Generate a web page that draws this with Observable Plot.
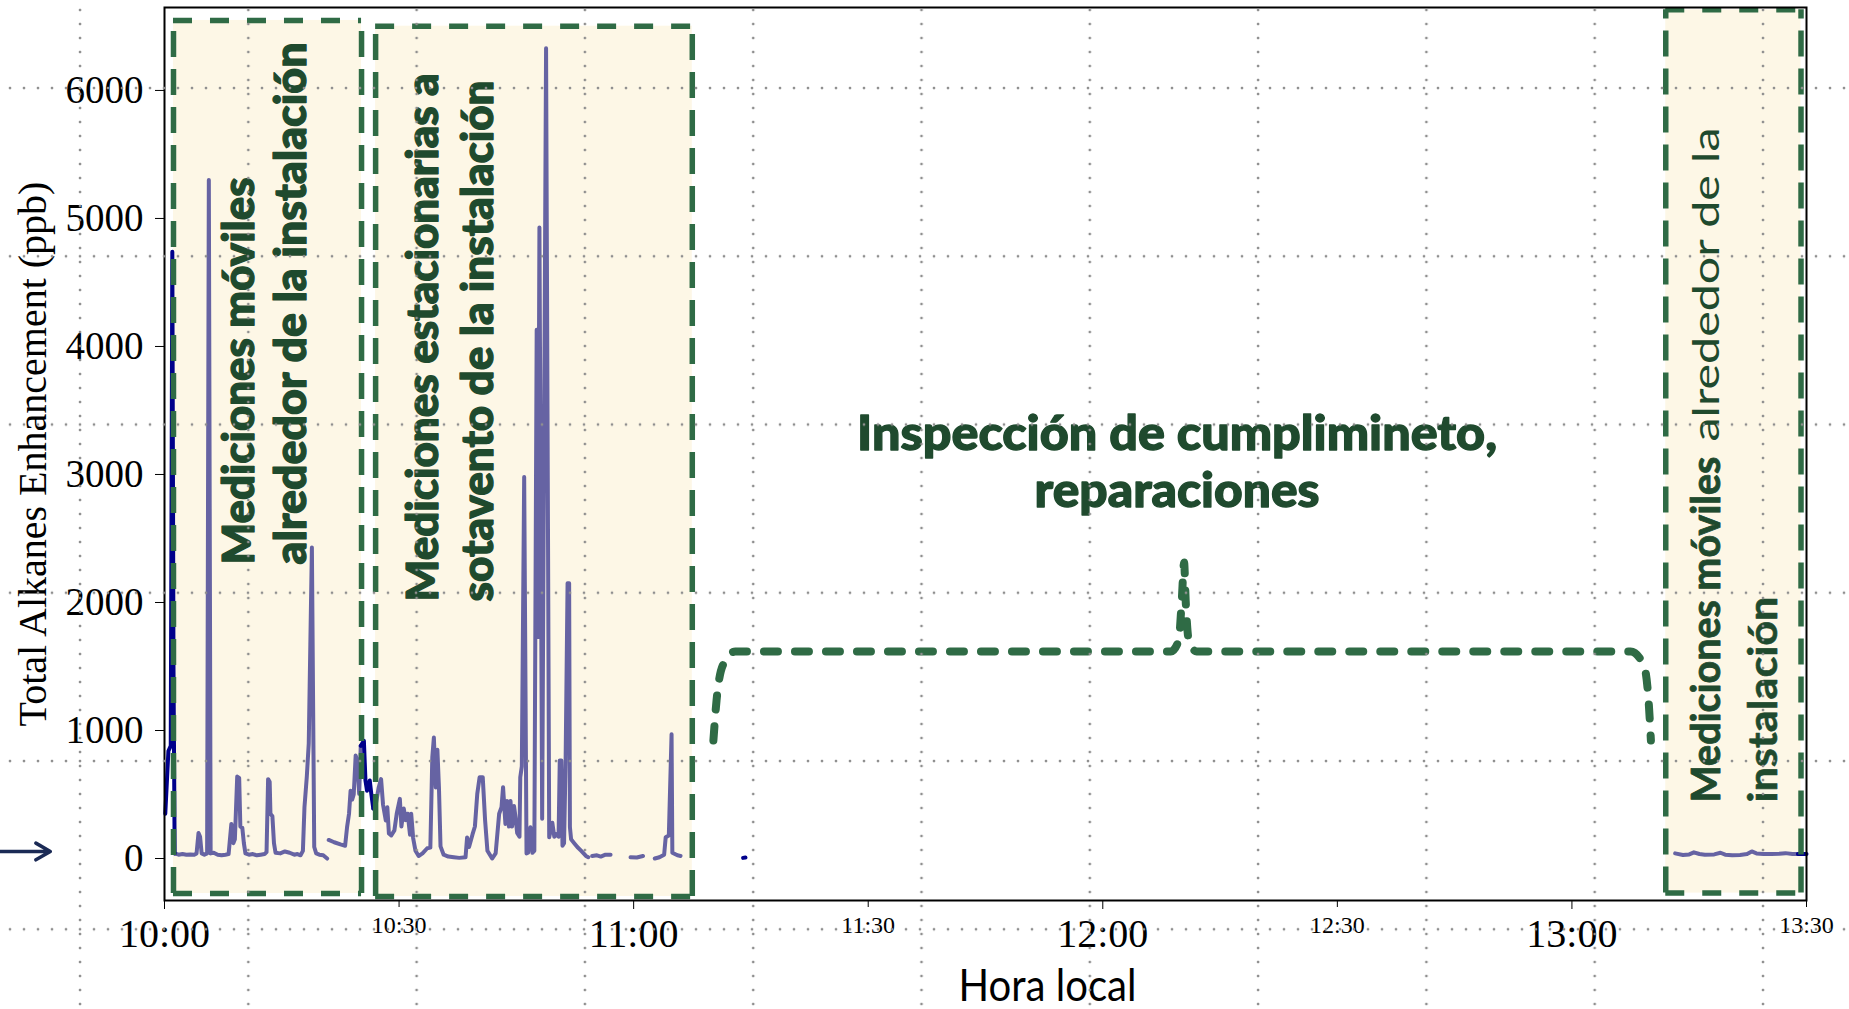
<!DOCTYPE html>
<html><head><meta charset="utf-8">
<script src="https://cdn.jsdelivr.net/npm/d3@7"></script>
<script src="https://cdn.jsdelivr.net/npm/@observablehq/plot@0.6"></script>
<style>
html,body{margin:0;padding:0;background:#fff;overflow:hidden;}
#wrap{position:relative;width:1849px;height:1009px;}
#grid{position:absolute;left:0;top:0;width:1849px;height:1009px;pointer-events:none;
background-image: radial-gradient(circle at 7px 7px, #8f8f8f 1.1px, rgba(143,143,143,0) 1.7px), radial-gradient(circle at 7px 7px, #8f8f8f 1.1px, rgba(143,143,143,0) 1.7px);
background-size: 14px 168.25px, 168.3px 14px;
background-position: 3px 81px, 73px 3px;}
</style></head>
<body><div id="wrap"><div id="chart"></div><div id="grid"></div></div>
<script>
// ---- tick labels ----
const hourLabels = ["10:00", "11:00", "12:00", "13:00"];
const halfLabels = ["10:30", "11:30", "12:30", "13:30"];
const yTicks = [0, 1000, 2000, 3000, 4000, 5000, 6000];

// ---- series: [minutes after 10:00, ppb] (null = gap) ----
const purpleReadings = [
  [1.3,40],[1.8,30],[2.3,35],[2.8,30],[3.3,32],[3.8,30],[4.1,40],[4.35,200],[4.55,170],[4.75,40],[5.1,30],[5.45,40],[5.67,5300],[5.9,40],
  [6.3,45],[6.8,30],[7.3,25],[7.8,30],[8.2,35],[8.55,270],[8.8,120],[9.0,150],[9.3,640],[9.55,630],[9.7,250],[9.95,240],[10.15,120],[10.35,40],
  [10.8,30],[11.3,35],[11.8,25],[12.3,30],[12.8,35],[13.05,50],[13.25,620],[13.45,600],[13.55,350],[13.8,330],[14.0,120],[14.2,45],[14.8,40],
  [15.4,55],[16.0,45],[16.6,30],[17.0,35],[17.4,25],[17.7,60],[17.9,400],[18.2,640],[18.45,900],[18.85,2430],[19.15,90],[19.4,40],[19.8,30],
  [20.3,25],[20.8,0],[20.9,null],
  [21.0,145],[21.7,127],[22.5,110],[23.1,100],[23.35,245],[23.6,350],[23.8,530],[24.0,460],[24.2,500],[24.45,805],[24.65,760],[24.9,505],[25.1,880],[25.3,null],
  [26.7,390],[27.0,415],[27.4,557],[27.7,620],[27.95,420],[28.3,297],[28.5,400],[28.7,195],[29.0,180],[29.4,220],[29.7,350],[30.1,466],[30.3,250],
  [30.6,390],[30.85,300],[31.1,350],[31.4,185],[31.55,350],[31.8,160],[32.1,60],[32.5,20],[33.0,40],[33.6,80],[34.0,85],[34.25,790],[34.45,945],
  [34.7,555],[34.9,850],[35.1,555],[35.3,95],[35.7,30],[36.3,15],[37.0,10],[37.7,5],[38.5,10],[38.7,165],[38.95,90],[39.4,190],[39.7,250],[40.0,505],
  [40.3,635],[40.7,635],[41.0,300],[41.3,60],[41.9,0],[42.35,40],[42.8,350],[43.1,400],[43.3,557],[43.6,270],[43.8,450],[44.05,250],[44.25,450],
  [44.45,250],[44.7,410],[44.9,320],[45.1,200],[45.4,170],[45.5,635],[45.7,720],[46.0,2980],[46.3,40],[46.5,45],[46.8,245],[47.05,45],[47.3,60],
  [47.6,4130],[47.75,1730],[47.95,4930],[48.3,310],[48.8,6330],[49.2,166],[49.6,280],[49.85,170],[50.1,190],[50.4,170],[50.55,765],[50.75,765],
  [50.9,100],[51.1,120],[51.3,765],[51.55,2150],[51.75,2150],[51.85,245],[52.0,150],[52.4,120],[52.8,90],[53.3,60],[53.9,20],[54.2,10],[54.4,null],
  [54.7,20],[55.3,25],[55.8,15],[56.4,30],[57.05,30],[57.2,null],
  [59.6,10],[60.4,8],[61.2,20],[61.4,null],
  [62.7,0],[63.3,10],[63.9,30],[64.1,166],[64.5,180],[64.85,970],[64.95,45],[65.6,25],[66.0,20],[66.2,null],
  [193.2,40],[194.2,28],[195.0,32],[195.6,48],[196.3,35],[197.0,30],[198.2,32],[199.0,45],[199.6,30],[200.5,25],[201.5,28],[202.4,35],[203.0,55],
  [203.6,40],[204.5,35],[205.5,35],[206.5,38],[207.3,42],[208.2,35],[208.9,35]
];
const navyReadings = [
  [0.1,350],[0.5,840],[0.8,880],[1.0,4740],[1.15,1500],[1.3,40],[1.4,null],
  [25.1,880],[25.5,920],[25.7,610],[25.9,530],[26.25,610],[26.45,505],[26.7,390],[26.8,null],
  [74.0,5],[74.3,8],[74.4,null],
  [208.9,35],[210,35]
];

// ---- highlighted periods ----
const boxStart  = [1.15, 27.0, 192.0];
const boxEnd    = [25.2, 67.5, 209.3];
const boxTop    = [6547, 6502, 6630];
const boxBottom = [-273, -297, -270];

// ---- annotation brace (minutes, ppb) ----
const braceTime  = [70.2, 70.6, 71.4, 73.0, 100, 128.7, 129.7, 130.1, 130.4, 130.6, 131.0, 132.0, 160, 187.5, 189.2, 189.8, 190.1];
const braceValue = [922, 1234, 1508, 1617, 1617, 1617, 1703, 2016, 2312, 2016, 1703, 1617, 1617, 1617, 1508, 1234, 922];

// ---- pointer arrow to zero ----
const pointerFrom = [-21.0], pointerTo = [-14.6], pointerValue = [55];

// ---- texts ----
const yLabel = "Total Alkanes Enhancement (ppb)";
const xLabel = "Hora local";
const box1Label = "Mediciones móviles\nalrededor de la instalación";
const box2Label = "Mediciones estacionarias a\nsotavento de la instalación";
const box3Parts = ["Mediciones móviles", "alrededor de la", "instalación"];
const inspectionLabel = "Inspección de cumplimineto,\nreparaciones";

const toMin = s => { const [h, m] = s.split(":").map(Number); return (h - 10) * 60 + m; };
const purple = purpleReadings.map(([t, v]) => ({t, v}));
const navy = navyReadings.map(([t, v]) => ({t, v}));
const boxes = boxStart.map((s, i) => ({start: s, end: boxEnd[i], top: boxTop[i], bottom: boxBottom[i]}));
const vEdges = boxes.flatMap(b => [{x: b.start, y1: b.bottom, y2: b.top}, {x: b.end, y1: b.bottom, y2: b.top}]);
const hEdges = boxes.flatMap(b => [{y: b.top, x1: b.start, x2: b.end}, {y: b.bottom, x1: b.start, x2: b.end}]);
const brace = braceTime.map((t, i) => ({t, v: braceValue[i]}));
const pointer = pointerFrom.map((f, i) => ({x1: f, x2: pointerTo[i], y: pointerValue[i]}));

const GREEN = "#2f6b45", TEXTGREEN = "#1f4a2e", SERIF = "Liberation Serif, Times New Roman, serif", SANS = "Lato, sans-serif";
const hourTicks = hourLabels.map(toMin), halfTicks = halfLabels.map(toMin);
const fmt = m => { const h = 10 + Math.floor(m / 60), mm = m % 60; return `${h}:${String(mm).padStart(2, "0")}`; };
const ann = {rotate: -90, lineAnchor: "middle", fontFamily: SANS, fill: TEXTGREEN};
const heavy = {stroke: TEXTGREEN, strokeWidth: 1.3};

const chart = Plot.plot({
  width: 1849, height: 1009,
  marginLeft: 164, marginRight: 43, marginTop: 7, marginBottom: 109,
  x: {domain: [0, 210]},
  y: {domain: [-328, 6648]},
  style: {background: "transparent", overflow: "visible"},
  marks: [
    Plot.rect(boxes, {x1: "start", x2: "end", y1: "bottom", y2: "top", fill: "#fdf7e6"}),
    Plot.line(purple, {x: "t", y: "v", stroke: "#6663a3", strokeWidth: 4, strokeLinejoin: "round", strokeLinecap: "round"}),
    Plot.line(navy, {x: "t", y: "v", stroke: "#00008b", strokeWidth: 4, strokeLinejoin: "round", strokeLinecap: "round"}),
    Plot.ruleX(vEdges, {x: "x", y1: "y1", y2: "y2", stroke: GREEN, strokeWidth: 5.5, strokeDasharray: "26,12"}),
    Plot.ruleY(hEdges, {y: "y", x1: "x1", x2: "x2", stroke: GREEN, strokeWidth: 5.5, strokeDasharray: "19,18"}),
    Plot.line(brace, {x: "t", y: "v", curve: "monotone-x", stroke: GREEN, strokeWidth: 8, strokeDasharray: "14,17", strokeLinecap: "round"}),
    Plot.text([box1Label], {...ann, ...heavy, x: 12.6, y: 2297, textAnchor: "start", lineHeight: 1.2, fontSize: 44, fontWeight: 900}),
    Plot.text([box2Label], {...ann, ...heavy, x: 36.2, y: 2008, textAnchor: "start", lineHeight: 1.27, fontSize: 44, fontWeight: 900}),
    Plot.text([box3Parts[0]], {...ann, stroke: TEXTGREEN, strokeWidth: 0.9, x: 197.3, y: 437, textAnchor: "start", fontSize: 41, fontWeight: 700}),
    Plot.text([box3Parts[1]], {...ann, x: 197.3, y: 5711, textAnchor: "end", fontSize: 36, fontWeight: 400}),
    Plot.text([box3Parts[2]], {...ann, stroke: TEXTGREEN, strokeWidth: 0.6, x: 204.6, y: 437, textAnchor: "start", fontSize: 40, fontWeight: 700}),
    Plot.text([inspectionLabel], {...heavy, x: 129.5, y: 3109, textAnchor: "middle", lineAnchor: "middle", lineHeight: 1.17, fontSize: 48, fontWeight: 900, fontFamily: SANS, fill: TEXTGREEN}),
    Plot.axisY({ticks: yTicks, tickSize: 9, tickPadding: 12, fontSize: 39, fontFamily: SERIF, label: null, color: "black", tickFormat: d => String(d)}),
    Plot.axisX({ticks: hourTicks, tickSize: 9, tickPadding: 9, fontSize: 40, fontFamily: SERIF, label: null, color: "black", tickFormat: fmt}),
    Plot.axisX({ticks: halfTicks, tickSize: 7, tickPadding: 8, fontSize: 24, fontFamily: SERIF, label: null, color: "black", tickFormat: fmt}),
    Plot.frame({stroke: "black", strokeWidth: 2}),
    Plot.arrow(pointer, {x1: "x1", x2: "x2", y1: "y", y2: "y", stroke: "#1b2a55", strokeWidth: 3.5, headLength: 22}),
    Plot.text([yLabel], {frameAnchor: "left", dx: -131, rotate: -90, textAnchor: "middle", lineAnchor: "middle", fontSize: 40, fontFamily: SERIF, fill: "black"}),
    Plot.text([xLabel], {frameAnchor: "bottom", dx: 62, dy: 86, textAnchor: "middle", lineAnchor: "middle", fontSize: 44, fontFamily: SANS, fill: "black"})
  ]
});

// stretch annotation lines to the lengths they occupy in the figure
const fitLengths = [
  [box1Label, [387, 522]], [box2Label, [528, 521]], [box3Parts[0], [346], "single"], [box3Parts[1], [314]],
  [box3Parts[2], [206]], [inspectionLabel, [640, 285]], [xLabel, [178]]
];
const allTexts = [...chart.querySelectorAll("text")];
for (const [content, lens, single] of fitLengths) {
  let cands = allTexts.filter(t => {
    const spans = [...t.querySelectorAll("tspan")];
    const s = spans.length ? spans.map(x => x.textContent).join("\n") : t.textContent;
    return s === content;
  });
  if (single) cands = cands.filter(t => t.querySelectorAll("tspan").length === 0);
  cands.forEach(t => {
    const spans = [...t.querySelectorAll("tspan")];
    const els = spans.length ? spans : [t];
    els.forEach((el, i) => { if (lens[i]) { el.setAttribute("textLength", lens[i]); el.setAttribute("lengthAdjust", "spacingAndGlyphs"); } });
  });
}
document.getElementById("chart").appendChild(chart);
</script></body></html>
